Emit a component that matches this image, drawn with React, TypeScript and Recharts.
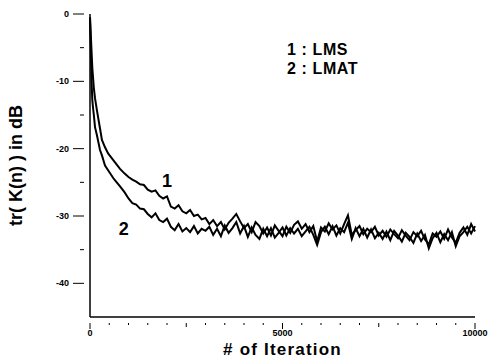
import { LineChart, Line, XAxis, YAxis, ReferenceDot } from "recharts";

// iteration index for every sample (uneven at the start, where the curves drop fast)
const iterations = [
  0, 20, 40, 60, 80, 100, 130, 180, 260, 310, 390, 470, 620, 780, 900,
  1000, 1100, 1200, 1300, 1400, 1500, 1600, 1700, 1800, 1900,
  2000, 2100, 2200, 2300, 2400, 2500, 2600, 2700, 2800, 2900,
  3000, 3100, 3200, 3300, 3400, 3500, 3600, 3700, 3800, 3900,
  4000, 4100, 4200, 4300, 4400, 4500, 4600, 4700, 4800, 4900,
  5000, 5100, 5200, 5300, 5400, 5500, 5600, 5700, 5800, 5900,
  6000, 6100, 6200, 6300, 6400, 6500, 6600, 6700, 6800, 6900,
  7000, 7100, 7200, 7300, 7400, 7500, 7600, 7700, 7800, 7900,
  8000, 8100, 8200, 8300, 8400, 8500, 8600, 8700, 8800, 8900,
  9000, 9100, 9200, 9300, 9400, 9500, 9600, 9700, 9800, 9900, 10000,
];

// curve 1 : LMS, tr(K(n)) in dB
const lmsDb = [
  -0.5, -3, -5.5, -8, -9.5, -11, -12.5, -14.3, -17, -18.7, -19.8, -20.7, -21.8, -23.0, -23.7,
  -24.2, -24.6, -24.9, -25.3, -25.4, -26.1, -26.4, -26.2, -27.0, -27.4,
  -27.1, -28.6, -28.9, -28.4, -29.3, -29.6, -29.1, -30.0, -29.8, -30.5,
  -30.3, -31.2, -30.6, -31.5, -30.9, -32.0, -31.0, -30.4, -29.7, -30.8,
  -31.8, -31.2, -32.4, -30.9, -31.5, -32.6, -31.7, -32.9, -31.4, -32.2,
  -33.0, -31.6, -32.5, -31.3, -30.8, -31.9, -31.2, -32.4, -31.5, -33.8,
  -31.7, -32.3, -31.1, -32.0, -31.4, -32.6, -31.2, -29.9, -32.8, -32.1,
  -31.5, -32.7, -31.9, -32.4, -31.6, -32.9, -32.2, -33.1, -32.0, -32.7,
  -33.3, -32.1, -32.9, -33.6, -32.4, -33.0, -32.2, -33.5, -34.2, -32.6,
  -33.1, -32.3, -33.4, -32.0, -33.2, -34.0, -32.5, -31.7, -32.8, -31.2, -32.3,
];

// curve 2 : LMAT
const lmatDb = [
  -0.5, -5, -10, -12.8, -14, -15, -16.8, -18, -20.2, -21, -22.5, -23.2, -24.5, -25.6, -26.5,
  -27.4, -28.1, -28.3, -28.9, -29.0, -29.7, -30.2, -29.6, -30.6, -30.9,
  -30.4, -31.6, -32.1, -31.2, -32.3, -31.8, -32.4, -31.5, -32.6, -31.9,
  -32.2, -31.6, -32.8, -31.9, -33.0, -31.4, -32.5, -31.8, -30.9, -32.6,
  -31.5, -33.1, -31.7, -32.8, -33.4, -31.9, -33.0, -31.8, -33.2, -32.5,
  -31.7, -32.9, -31.8, -32.6, -31.9, -33.0, -32.3, -31.6, -32.8, -34.3,
  -32.4, -31.6, -32.7, -31.5, -32.9, -31.8, -32.4, -31.0, -33.4, -31.8,
  -33.0, -31.9, -33.2, -32.0, -33.3, -32.5, -33.4, -32.3, -33.6, -32.2,
  -32.9, -33.8, -32.5, -33.1, -34.0, -32.6, -33.7, -32.8, -34.8, -33.3,
  -32.5, -33.9, -32.7, -33.6, -32.4, -34.5, -33.0, -32.4, -31.6, -32.6, -31.5,
];

const yTicks = [-45, -40, -35, -30, -25, -20, -15, -10, -5, 0];
const xTicks = [
  0, 500, 1000, 1500, 2000, 2500, 3000, 3500, 4000, 4500, 5000,
  5500, 6000, 6500, 7000, 7500, 8000, 8500, 9000, 9500, 10000,
];
const xLabels = [0, 5000, 10000];
const legendLines = ["1 : LMS", "2 : LMAT"];

const data = iterations.map((it, i) => ({ it, lms: lmsDb[i], lmat: lmatDb[i] }));

const FONT = "'Liberation Sans', Arial, sans-serif";

function YTick({ x, y, payload }: any) {
  const v = payload.value as number;
  const major = v % 10 === 0;
  if (v === -45) return null;
  return (
    <g>
      <line x1={x + 2 - (major ? 11 : 4)} x2={x + 2} y1={y} y2={y} stroke="#000" strokeWidth={1} />
      {major && (
        <text x={x - 13} y={y} dy={3} textAnchor="end" fontSize={9} fontWeight="bold" fontFamily={FONT} fill="#000">
          {v === 0 ? "0" : `-${Math.abs(v)}`}
        </text>
      )}
    </g>
  );
}

function XTick({ x, y, payload }: any) {
  const v = payload.value as number;
  const major = xLabels.includes(v);
  const len = major ? 6 : v % 2500 === 0 ? 4 : 2;
  return (
    <g>
      <line x1={x} x2={x} y1={y - 2} y2={y - 2 + len} stroke="#000" strokeWidth={1} />
      {major && (
        <text x={x} y={y + 11} textAnchor="middle" fontSize={9} fontWeight="bold" fontFamily={FONT} fill="#000">
          {v}
        </text>
      )}
    </g>
  );
}

export default function App() {
  return (
    <div style={{ margin: "-8px -8px 0 -8px", width: 496, height: 355, background: "#fff", position: "relative" }}>
      <LineChart width={496} height={363} data={data} margin={{ top: 14, right: 21, bottom: 0, left: 0 }}>
        <XAxis
          dataKey="it"
          type="number"
          domain={[0, 10000]}
          ticks={xTicks}
          interval={0}
          tick={<XTick />}
          tickLine={false}
          height={46}
          stroke="#000"
          strokeWidth={1.5}
          label={{
            value: "# of Iteration",
            position: "insideBottom",
            offset: 8,
            style: { fontFamily: FONT, fontWeight: "bold", fontSize: 17, letterSpacing: 1.2, fill: "#000" },
          }}
        />
        <YAxis
          type="number"
          domain={[-45, 0]}
          ticks={yTicks}
          interval={0}
          tick={<YTick />}
          tickLine={false}
          width={90}
          stroke="#000"
          strokeWidth={1.5}
          label={{
            value: "tr( K(n) ) in dB",
            angle: -90,
            position: "insideLeft",
            offset: 16,
            style: { fontFamily: FONT, fontWeight: "bold", fontSize: 18, fill: "#000", textAnchor: "middle" },
          }}
        />
        <Line dataKey="lms" stroke="#000" strokeWidth={2} dot={false} isAnimationActive={false} />
        <Line dataKey="lmat" stroke="#000" strokeWidth={2} dot={false} isAnimationActive={false} />
        <ReferenceDot
          x={2000}
          y={-24.7}
          r={0}
          label={{ value: "1", position: "center", style: { fontFamily: FONT, fontWeight: "bold", fontSize: 18, fill: "#000" } }}
        />
        <ReferenceDot
          x={880}
          y={-31.9}
          r={0}
          label={{ value: "2", position: "center", style: { fontFamily: FONT, fontWeight: "bold", fontSize: 18, fill: "#000" } }}
        />
      </LineChart>
      <div
        style={{
          position: "absolute",
          left: 287,
          top: 40,
          fontFamily: FONT,
          fontWeight: "bold",
          fontSize: 16,
          letterSpacing: 0.6,
          lineHeight: "19px",
          color: "#000",
        }}
      >
        {legendLines.map((l) => (
          <div key={l}>{l}</div>
        ))}
      </div>
    </div>
  );
}
